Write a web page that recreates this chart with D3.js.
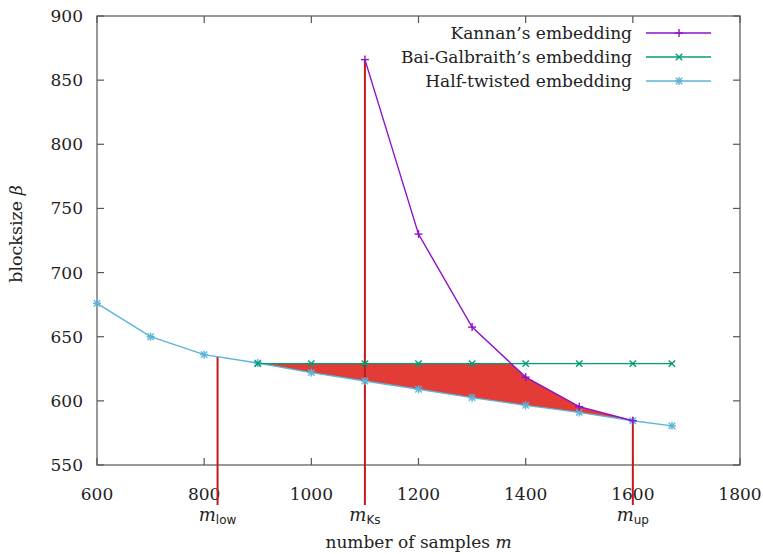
<!DOCTYPE html>
<html><head><meta charset="utf-8">
<script src="https://cdn.jsdelivr.net/npm/d3@7"></script>
<style>body{margin:0;background:#fff}svg{display:block}</style>
</head><body>
<svg id="c" width="763" height="554"></svg>
<script>
const xTicks = [600, 800, 1000, 1200, 1400, 1600, 1800];
const yTicks = [550, 600, 650, 700, 750, 800, 850, 900];
const halfX = [600, 700, 800, 900, 1000, 1100, 1200, 1300, 1400, 1500, 1600, 1673];
const halfY = [676, 650, 636, 629.5, 622, 615.5, 609, 602.5, 596.5, 591, 584.5, 580.5];
const bgX = [900, 1000, 1100, 1200, 1300, 1400, 1500, 1600, 1673];
const bgY = [629, 629, 629, 629, 629, 629, 629, 629, 629];
const kanX = [1100, 1200, 1300, 1400, 1500, 1600];
const kanY = [866, 730, 657.5, 618.5, 595.5, 584.5];
const marks = [{name: "m", sub: "low", x: 825}, {name: "m", sub: "Ks", x: 1100}, {name: "m", sub: "up", x: 1600}];
const seriesNames = ["Kannan\u2019s embedding", "Bai-Galbraith\u2019s embedding", "Half-twisted embedding"];
const colors = ["#9010c8", "#009e73", "#5cb4d8"];

const svg = d3.select("#c");
const L = 97, R = 740, T = 16, B = 465;
const x = d3.scaleLinear().domain([600, 1800]).range([L, R]);
const y = d3.scaleLinear().domain([550, 900]).range([B, T]);
const serif = "'DejaVu Serif', serif";

function interp(xs, ys, v) {
  for (let i = 0; i < xs.length - 1; i++) {
    if (v >= xs[i] && v <= xs[i + 1]) {
      const t = (v - xs[i]) / (xs[i + 1] - xs[i]);
      return ys[i] + t * (ys[i + 1] - ys[i]);
    }
  }
  return NaN;
}
const half = halfX.map((d, i) => [d, halfY[i]]);
const bg = bgX.map((d, i) => [d, bgY[i]]);
const kan = kanX.map((d, i) => [d, kanY[i]]);

// fill region between half-twisted and min(BG, Kannan) from 900 to 1600
let xs = halfX.filter(v => v >= 900 && v <= 1600);
for (let i = 0; i < kanX.length - 1; i++) {
  const a = kanY[i] - 629, b = kanY[i + 1] - 629;
  if (a > 0 && b < 0) xs.push(kanX[i] + (kanX[i + 1] - kanX[i]) * a / (a - b));
}
xs.sort((a, b) => a - b);
const fillData = xs.map(v => {
  const bv = interp(bgX, bgY, v);
  const kv = v >= kanX[0] ? interp(kanX, kanY, v) : Infinity;
  return {x: v, y0: interp(halfX, halfY, v), y1: Math.min(bv, kv)};
});
svg.append("path").datum(fillData)
  .attr("d", d3.area().x(d => x(d.x)).y0(d => y(d.y0)).y1(d => y(d.y1)))
  .attr("fill", "#e33b35").attr("stroke", "none");

// frame
svg.append("rect").attr("x", L).attr("y", T).attr("width", R - L).attr("height", B - T)
  .attr("fill", "none").attr("stroke", "#555").attr("stroke-width", 1.2);
const tk = svg.append("g").attr("stroke", "#555").attr("stroke-width", 1.2);
xTicks.forEach(v => {
  tk.append("line").attr("x1", x(v)).attr("x2", x(v)).attr("y1", B).attr("y2", B - 7);
  tk.append("line").attr("x1", x(v)).attr("x2", x(v)).attr("y1", T).attr("y2", T + 7);
});
yTicks.forEach(v => {
  tk.append("line").attr("x1", L).attr("x2", L + 7).attr("y1", y(v)).attr("y2", y(v));
  tk.append("line").attr("x1", R).attr("x2", R - 7).attr("y1", y(v)).attr("y2", y(v));
});
svg.append("g").selectAll("text").data(xTicks).join("text")
  .attr("x", d => x(d)).attr("y", B + 35).attr("text-anchor", "middle")
  .attr("font-family", serif).attr("font-size", 17).attr("fill", "#222").text(d => d);
svg.append("g").selectAll("text").data(yTicks).join("text")
  .attr("x", L - 14).attr("y", d => y(d) + 6).attr("text-anchor", "end")
  .attr("font-family", serif).attr("font-size", 17).attr("fill", "#222").text(d => d);

// vertical marker lines
marks.forEach(m => {
  const yTop = m.sub === "Ks" ? kanY[0] : interp(halfX, halfY, m.x);
  svg.append("line").attr("x1", x(m.x)).attr("x2", x(m.x))
    .attr("y1", y(yTop)).attr("y2", B + 40)
    .attr("stroke", "#c41a1c").attr("stroke-width", 2);
  const t = svg.append("text").attr("x", x(m.x)).attr("y", B + 56).attr("text-anchor", "middle")
    .attr("fill", "#222");
  t.append("tspan").attr("font-family", serif).attr("font-style", "italic").attr("font-size", 18).text(m.name);
  t.append("tspan").attr("font-family", "'DejaVu Sans', sans-serif").attr("font-size", 12).attr("dy", 3).text(m.sub);
});

// series
const line = d3.line().x(d => x(d[0])).y(d => y(d[1]));
const ser = [kan, bg, half];
function marker(g, type, cx, cy, col) {
  const s = 4;
  const p = [];
  if (type === 0 || type === 2) { p.push([cx - s, cy, cx + s, cy], [cx, cy - s, cx, cy + s]); }
  if (type === 1 || type === 2) { p.push([cx - s * 0.8, cy - s * 0.8, cx + s * 0.8, cy + s * 0.8], [cx - s * 0.8, cy + s * 0.8, cx + s * 0.8, cy - s * 0.8]); }
  p.forEach(q => g.append("line").attr("x1", q[0]).attr("y1", q[1]).attr("x2", q[2]).attr("y2", q[3])
    .attr("stroke", col).attr("stroke-width", 1.4));
}
[2, 1, 0].forEach(i => {
  const g = svg.append("g");
  g.append("path").datum(ser[i]).attr("d", line).attr("fill", "none")
    .attr("stroke", colors[i]).attr("stroke-width", 1.4);
  ser[i].forEach(d => marker(g, i, x(d[0]), y(d[1]), colors[i]));
});

// legend
seriesNames.forEach((n, i) => {
  const ly = 33 + i * 24;
  svg.append("text").attr("x", 632).attr("y", ly + 6).attr("text-anchor", "end")
    .attr("font-family", serif).attr("font-size", 17).attr("fill", "#222").text(n);
  const g = svg.append("g");
  g.append("line").attr("x1", 646).attr("x2", 711).attr("y1", ly).attr("y2", ly)
    .attr("stroke", colors[i]).attr("stroke-width", 1.4);
  marker(g, i, 679, ly, colors[i]);
});

// axis titles
const xt = svg.append("text").attr("x", (L + R) / 2).attr("y", 548).attr("text-anchor", "middle")
  .attr("font-family", serif).attr("font-size", 17).attr("fill", "#222");
xt.append("tspan").text("number of samples ");
xt.append("tspan").attr("font-style", "italic").text("m");
const yt = svg.append("text").attr("transform", `translate(22,234) rotate(-90)`)
  .attr("text-anchor", "middle").attr("font-family", serif).attr("font-size", 17.5).attr("fill", "#222");
yt.append("tspan").text("blocksize ");
yt.append("tspan").attr("font-style", "italic").text("\u03b2");
</script>
</body></html>
